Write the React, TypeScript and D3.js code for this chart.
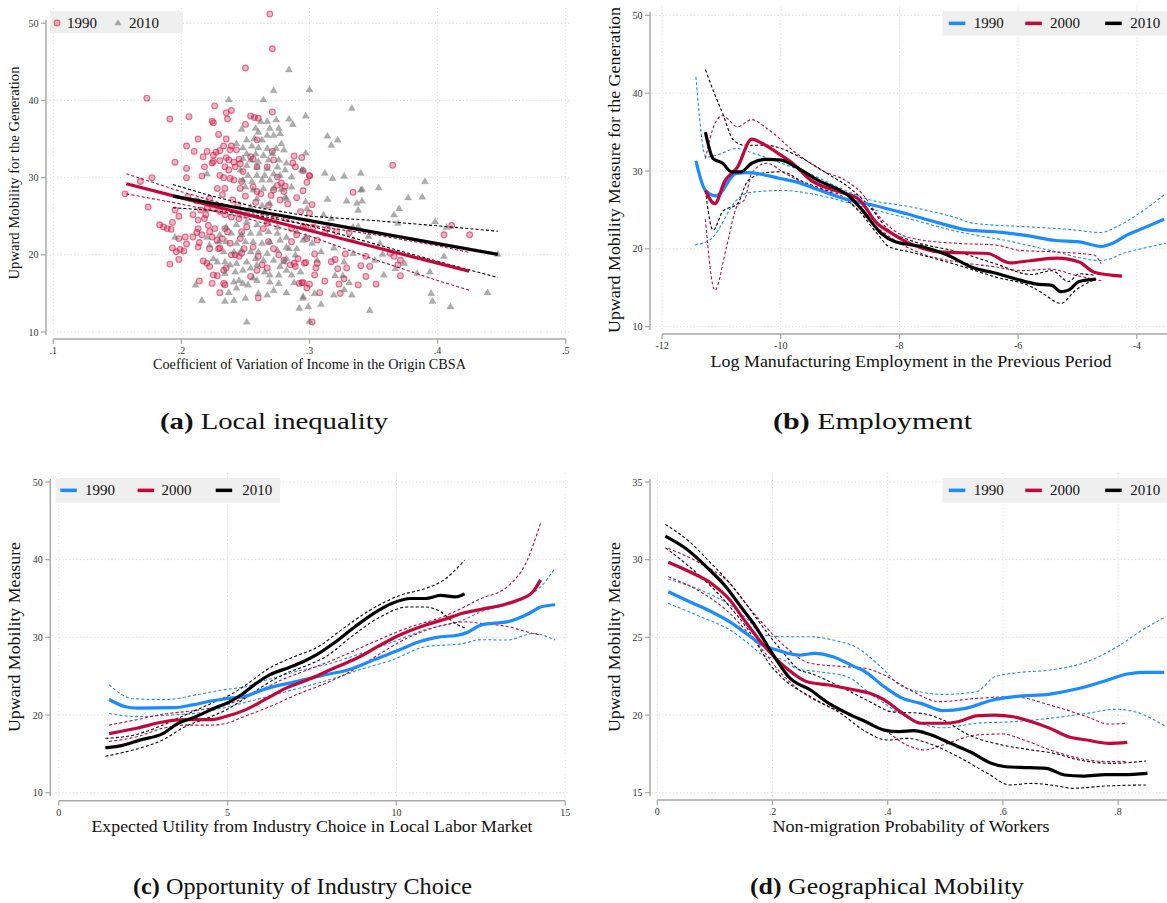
import React from 'react';
import * as d3 from 'd3';

type P = [number, number];

const FONT = "'Liberation Serif', 'DejaVu Serif', serif";
const BLUE = '#1a8cff';
const RED = '#c4063a';
const BLACK = '#000000';

// ---------------- Panel (a) data ----------------
const aXTicks = [0.1, 0.2, 0.3, 0.4, 0.5];
const aXLabels = ['.1', '.2', '.3', '.4', '.5'];
const aYTicks = [10, 20, 30, 40, 50];

const scatter1990: P[] = [
  [0.25,44.2],[0.173,40.3],[0.191,37.6],[0.206,37.9],[0.226,39.3],[0.224,37.3],[0.225,37.1],[0.235,38.4],[0.239,38.7],[0.236,37.6],
  [0.25,36.9],[0.254,38.0],[0.257,37.8],[0.26,37.7],[0.271,38.5],[0.229,35.6],[0.235,35.0],[0.213,35.0],[0.204,34.1],[0.21,33.4],
  [0.22,33.4],[0.217,32.7],[0.227,33.3],[0.23,33.5],[0.233,34.1],[0.238,33.6],[0.239,34.1],[0.243,33.6],[0.225,32.9],[0.225,32.1],
  [0.23,32.2],[0.224,31.9],[0.218,31.4],[0.204,31.2],[0.195,32.0],[0.235,32.6],[0.237,32.3],[0.241,32.0],[0.242,31.4],[0.246,31.8],
  [0.245,32.4],[0.234,31.4],[0.237,31.0],[0.216,30.2],[0.204,30.0],[0.23,30.3],[0.233,30.0],[0.238,29.9],[0.241,29.7],[0.247,29.5],
  [0.177,30.0],[0.168,29.5],[0.156,27.9],[0.228,28.6],[0.234,28.6],[0.246,28.6],[0.256,28.8],[0.259,28.2],[0.267,31.4],[0.272,32.3],
  [0.275,29.0],[0.278,29.3],[0.281,28.9],[0.288,32.8],[0.294,32.6],[0.287,31.9],[0.289,31.4],[0.295,30.9],[0.3,30.3],[0.295,28.3],
  [0.28,28.2],[0.272,28.4],[0.248,30.8],[0.254,32.7],[0.256,32.4],[0.259,34.9],[0.271,33.4],[0.275,30.1],[0.259,31.4],[0.269,51.2],
  [0.271,46.7],[0.174,26.2],[0.183,23.9],[0.186,23.6],[0.189,23.4],[0.192,23.3],[0.193,24.2],[0.195,25.8],[0.198,25.0],[0.193,20.9],
  [0.196,20.4],[0.199,20.7],[0.202,20.5],[0.191,18.8],[0.198,19.4],[0.198,22.1],[0.203,22.3],[0.204,21.4],[0.209,22.3],[0.212,22.9],
  [0.213,23.4],[0.213,24.5],[0.214,21.6],[0.213,21.0],[0.216,22.6],[0.218,24.7],[0.219,25.2],[0.221,23.8],[0.222,23.0],[0.224,22.3],
  [0.226,23.4],[0.228,21.9],[0.229,20.8],[0.23,20.9],[0.222,20.8],[0.217,19.2],[0.22,18.9],[0.222,18.5],[0.225,17.4],[0.228,17.3],
  [0.224,16.3],[0.214,16.6],[0.23,15.1],[0.233,16.3],[0.234,16.1],[0.232,22.1],[0.234,23.4],[0.236,23.0],[0.238,21.5],[0.239,20.0],
  [0.242,20.0],[0.245,19.8],[0.247,20.2],[0.249,20.8],[0.246,22.1],[0.247,23.0],[0.251,23.6],[0.251,25.2],[0.245,24.7],[0.239,24.9],
  [0.234,25.2],[0.23,25.6],[0.225,26.0],[0.22,26.0],[0.215,25.8],[0.209,25.2],[0.256,21.0],[0.26,19.8],[0.263,18.7],[0.267,18.3],
  [0.259,18.0],[0.254,17.2],[0.26,14.4],[0.268,21.7],[0.272,20.8],[0.276,20.0],[0.277,27.1],[0.28,19.3],[0.285,18.7],[0.288,18.9],
  [0.289,18.5],[0.291,19.5],[0.296,18.9],[0.292,16.3],[0.295,16.4],[0.298,15.7],[0.286,23.4],[0.29,22.6],[0.295,23.6],[0.286,21.7],
  [0.282,24.7],[0.272,24.7],[0.267,24.1],[0.264,23.4],[0.233,18.0],[0.235,18.3],[0.3,30.2],[0.298,29.4],[0.365,31.6],[0.334,28.1],
  [0.302,26.5],[0.3,25.4],[0.297,23.6],[0.303,23.6],[0.314,23.4],[0.321,23.0],[0.331,22.9],[0.306,21.9],[0.304,20.1],[0.298,22.1],
  [0.297,19.0],[0.306,18.9],[0.305,18.3],[0.304,17.4],[0.294,16.4],[0.3,16.2],[0.308,15.1],[0.312,16.6],[0.317,19.1],[0.32,19.4],
  [0.322,18.2],[0.329,18.3],[0.328,20.1],[0.323,16.2],[0.324,15.0],[0.327,16.9],[0.338,16.1],[0.34,18.6],[0.344,19.8],[0.347,18.5],
  [0.344,17.2],[0.352,16.2],[0.363,20.2],[0.366,19.8],[0.371,19.3],[0.369,18.7],[0.371,17.3],[0.405,22.6],[0.411,23.8],[0.425,22.6],
  [0.302,11.3],[0.312,22.8],[0.205,27.5],[0.212,27.0],[0.222,27.3],[0.232,27.8],[0.24,27.1],[0.244,26.5],[0.25,27.6],[0.258,26.8],
  [0.262,27.9],[0.268,26.4],[0.27,27.7],[0.283,26.6],[0.29,27.4],[0.293,25.6],
];

const scatter2010: P[] = [
  [0.284,44.0],[0.272,41.3],[0.237,40.1],[0.264,40.1],[0.247,36.3],[0.262,37.3],[0.267,37.3],[0.274,37.5],[0.284,37.6],[0.287,36.9],
  [0.258,36.4],[0.26,35.9],[0.269,36.4],[0.276,36.4],[0.267,35.5],[0.272,35.5],[0.277,35.7],[0.257,35.1],[0.263,34.9],[0.251,34.9],
  [0.243,34.4],[0.248,33.9],[0.255,34.1],[0.26,33.9],[0.267,33.8],[0.274,33.8],[0.278,34.4],[0.28,33.6],[0.251,33.1],[0.258,33.1],
  [0.264,32.9],[0.271,33.1],[0.248,32.5],[0.254,32.3],[0.26,32.1],[0.268,32.3],[0.276,32.3],[0.282,31.9],[0.251,31.6],[0.259,31.4],
  [0.267,31.2],[0.275,31.4],[0.281,31.0],[0.246,31.0],[0.22,30.5],[0.252,30.3],[0.259,30.3],[0.265,30.3],[0.272,30.5],[0.277,30.3],
  [0.248,29.7],[0.255,29.5],[0.263,29.7],[0.269,29.7],[0.286,30.1],[0.295,31.0],[0.25,28.8],[0.256,28.4],[0.264,28.6],[0.272,28.6],
  [0.278,28.5],[0.286,28.8],[0.281,27.5],[0.195,22.3],[0.211,16.1],[0.216,14.1],[0.234,14.0],[0.237,15.1],[0.241,16.5],[0.243,15.7],
  [0.245,16.7],[0.241,14.1],[0.25,14.4],[0.248,16.3],[0.252,16.1],[0.251,11.3],[0.256,17.0],[0.259,16.7],[0.26,15.0],[0.267,14.8],
  [0.272,15.4],[0.269,16.5],[0.276,16.3],[0.282,15.1],[0.288,16.4],[0.295,14.6],[0.292,13.1],[0.3,11.4],[0.234,17.6],[0.242,17.8],
  [0.248,18.0],[0.254,18.3],[0.259,18.7],[0.265,17.8],[0.269,17.4],[0.276,17.4],[0.277,18.5],[0.282,18.0],[0.286,17.4],[0.293,17.8],
  [0.234,19.1],[0.238,18.7],[0.243,18.9],[0.251,19.1],[0.258,19.5],[0.264,19.3],[0.272,19.3],[0.28,19.1],[0.282,19.5],[0.289,20.0],
  [0.233,20.4],[0.241,20.4],[0.247,20.6],[0.254,20.4],[0.26,20.4],[0.267,20.2],[0.275,20.6],[0.284,20.8],[0.225,19.5],[0.228,19.1],
  [0.222,21.3],[0.229,21.7],[0.235,21.7],[0.243,21.5],[0.25,21.7],[0.256,21.7],[0.263,21.5],[0.269,21.7],[0.277,21.9],[0.282,21.0],
  [0.29,20.8],[0.295,21.9],[0.22,22.3],[0.23,22.6],[0.239,22.8],[0.247,22.6],[0.254,22.8],[0.261,22.8],[0.268,23.0],[0.275,22.8],
  [0.282,22.3],[0.29,23.0],[0.235,23.6],[0.243,23.9],[0.251,24.3],[0.259,23.9],[0.267,24.3],[0.275,23.6],[0.256,25.2],[0.264,25.4],
  [0.246,25.4],[0.254,26.2],[0.263,26.4],[0.269,26.7],[0.259,27.3],[0.282,27.3],[0.297,26.9],[0.333,39.0],[0.297,38.0],[0.314,35.4],
  [0.322,34.9],[0.317,34.2],[0.297,33.2],[0.294,31.0],[0.312,30.6],[0.318,29.9],[0.327,30.2],[0.34,30.6],[0.354,28.7],[0.34,28.4],
  [0.39,29.5],[0.377,27.4],[0.388,27.5],[0.314,27.2],[0.329,27.0],[0.337,26.7],[0.341,27.0],[0.338,25.8],[0.37,26.0],[0.366,25.2],
  [0.298,26.0],[0.311,25.2],[0.317,24.7],[0.334,23.6],[0.338,23.7],[0.398,24.3],[0.369,24.1],[0.407,23.6],[0.297,22.3],[0.302,21.5],
  [0.309,20.4],[0.319,20.9],[0.334,22.0],[0.346,22.4],[0.355,21.5],[0.357,20.1],[0.351,19.3],[0.334,20.2],[0.327,19.1],[0.32,17.3],
  [0.326,17.3],[0.331,16.4],[0.333,14.8],[0.319,14.8],[0.309,13.6],[0.304,15.0],[0.295,14.4],[0.299,13.3],[0.347,12.8],[0.358,17.4],
  [0.367,18.2],[0.374,18.9],[0.384,17.6],[0.394,17.8],[0.405,19.8],[0.395,15.0],[0.396,14.0],[0.41,13.3],[0.439,15.1],[0.447,20.1],
  [0.327,15.5],[0.306,19.3],[0.3,41.4],[0.341,28.5],
];

const aFitX = [0.157, 0.2, 0.25, 0.3, 0.35, 0.4, 0.4246];
const aFit1990 = [29.2, 27.38, 25.27, 23.15, 21.04, 18.92, 17.87];
const aFit1990Hi = [30.5, 28.18, 25.77, 23.85, 22.64, 21.17, 20.32];
const aFit1990Lo = [27.9, 26.58, 24.77, 22.45, 19.44, 16.67, 15.42];
const aFit2010X = [0.1935, 0.22, 0.26, 0.3, 0.35, 0.4, 0.447];
const aFit2010 = [27.6, 26.81, 25.62, 24.43, 22.95, 21.46, 20.06];
const aFit2010Hi = [29.1, 27.8, 26.1, 25.0, 24.45, 23.76, 23.06];
const aFit2010Lo = [26.1, 25.8, 25.1, 23.8, 21.45, 19.16, 17.06];

// ---------------- Panel (b) data ----------------
const bXTicks = [-12, -10, -8, -6, -4];
const bYTicks = [10, 20, 30, 40, 50];
const b1990: P[] = [[-11.43,31.3],[-11.27,27.5],[-11.09,26.8],[-10.75,29.7],[-10.55,29.8],[-9.99,29.0],[-9.74,28.6],[-9.37,27.6],[-9.0,26.6],[-8.81,26.2],[-8.44,25.6],[-7.88,24.5],[-7.32,23.3],[-6.83,22.4],[-6.39,22.2],[-5.77,21.6],[-5.4,21.1],[-4.97,20.9],[-4.6,20.3],[-4.41,20.7],[-4.16,21.8],[-3.91,22.6],[-3.54,23.8]];
const b1990Hi: P[] = [[-11.43,42.1],[-11.26,31.8],[-11.1,32.0],[-10.73,32.9],[-10.55,32.5],[-9.99,31.0],[-9.5,29.6],[-9.0,27.8],[-8.5,26.3],[-7.82,25.4],[-7.01,23.9],[-6.77,23.3],[-5.77,22.8],[-5.15,22.5],[-4.6,22.1],[-4.35,22.8],[-3.97,24.5],[-3.51,27.1]];
const b1990Lo: P[] = [[-11.45,20.5],[-11.17,21.3],[-10.74,26.3],[-10.55,27.2],[-9.99,27.5],[-9.25,26.7],[-8.63,25.4],[-7.95,24.1],[-7.01,22.2],[-6.09,20.9],[-5.46,19.8],[-4.6,18.5],[-4.16,19.6],[-3.91,20.05],[-3.51,20.7]];
const b2000: P[] = [[-11.27,27.5],[-11.11,25.8],[-10.95,28.6],[-10.73,30.5],[-10.49,34.1],[-10.3,33.5],[-10.05,32.3],[-9.8,31.0],[-9.49,28.8],[-9.0,27.3],[-8.69,26.4],[-8.38,23.3],[-8.13,22.0],[-7.88,20.9],[-7.32,19.6],[-6.51,19.4],[-6.14,18.2],[-5.77,18.5],[-5.34,18.8],[-4.97,18.3],[-4.72,17.0],[-4.25,16.5]];
const b2000Hi: P[] = [[-11.27,31.6],[-11.11,36.1],[-10.98,37.1],[-10.73,35.7],[-10.49,36.6],[-10.24,35.5],[-9.74,32.3],[-9.31,30.1],[-8.87,28.6],[-8.63,27.1],[-8.38,24.5],[-8.13,22.6],[-7.82,21.4],[-7.01,20.7],[-6.39,20.5],[-5.96,19.8],[-5.34,19.6],[-4.72,19.2],[-4.6,18.1]];
const b2000Lo: P[] = [[-11.27,23.8],[-11.11,14.7],[-10.92,20.05],[-10.73,25.6],[-10.61,26.3],[-10.49,29.7],[-10.24,31.0],[-9.93,29.7],[-9.49,28.0],[-9.0,26.9],[-8.63,24.5],[-8.25,22.0],[-7.63,19.4],[-7.01,18.3],[-6.39,17.7],[-5.96,17.2],[-5.46,17.4],[-5.03,16.6],[-4.6,15.9]];
const b2010: P[] = [[-11.27,35.0],[-11.14,31.6],[-10.98,31.0],[-10.83,29.9],[-10.67,29.9],[-10.49,31.0],[-10.24,31.5],[-9.99,31.4],[-9.74,30.5],[-9.37,28.8],[-9.0,27.5],[-8.87,26.9],[-8.63,25.0],[-8.31,22.0],[-8.07,20.9],[-7.63,20.3],[-7.19,19.2],[-6.77,17.6],[-6.39,16.9],[-6.02,16.1],[-5.71,15.5],[-5.43,15.3],[-5.28,14.5],[-5.15,14.7],[-4.97,15.8],[-4.69,16.1]];
const b2010Hi: P[] = [[-11.27,43.0],[-11.11,39.8],[-10.98,37.4],[-10.8,34.0],[-10.61,33.3],[-10.24,33.3],[-9.99,32.9],[-9.68,31.8],[-9.18,29.5],[-8.87,28.0],[-8.5,25.4],[-8.18,22.4],[-7.82,21.1],[-7.01,19.6],[-6.39,18.1],[-5.77,16.7],[-5.43,17.2],[-5.15,15.8],[-4.97,16.8],[-4.72,16.6]];
const b2010Lo: P[] = [[-11.27,27.5],[-11.14,22.4],[-10.98,24.8],[-10.73,25.8],[-10.55,28.8],[-10.24,29.8],[-9.99,29.9],[-9.62,28.6],[-9.18,27.3],[-8.75,25.4],[-8.38,22.0],[-8.18,20.3],[-7.82,19.6],[-7.01,17.9],[-6.39,16.4],[-5.77,15.1],[-5.59,14.3],[-5.28,13.0],[-5.03,14.7],[-4.72,16.0]];

// ---------------- Panel (c) data ----------------
const cXTicks = [0, 5, 10, 15];
const cYTicks = [10, 20, 30, 40, 50];
const c1990: P[] = [[1.49,22.0],[1.98,21.07],[2.31,20.9],[3.41,20.94],[3.96,21.3],[4.51,21.8],[4.94,22.1],[5.49,22.4],[6.15,23.4],[7.03,24.3],[7.8,25.1],[8.56,25.8],[9.33,27.1],[10.1,28.4],[10.65,29.4],[11.19,30.0],[11.85,30.3],[12.13,30.7],[12.51,31.6],[12.84,31.8],[13.28,32.0],[13.94,33.1],[14.27,33.9],[14.7,34.2]];
const c1990Hi: P[] = [[1.49,23.9],[2.2,22.1],[3.19,22.0],[4.07,22.6],[4.94,23.3],[5.49,23.6],[6.15,24.5],[7.03,25.6],[8.0,26.6],[9.0,28.0],[9.77,29.2],[10.87,31.0],[11.96,32.2],[12.51,33.3],[13.28,34.2],[13.83,35.2],[14.27,36.5],[14.7,38.9]];
const c1990Lo: P[] = [[1.49,20.2],[2.31,19.8],[3.3,20.0],[4.18,20.3],[4.94,21.0],[5.6,21.7],[6.37,22.6],[7.25,23.6],[8.13,24.7],[8.89,25.8],[9.88,27.1],[10.87,28.8],[11.96,29.2],[12.51,29.7],[13.28,29.65],[14.05,30.5],[14.7,29.65]];
const c2000: P[] = [[1.49,17.6],[2.31,18.3],[3.08,19.1],[3.74,19.4],[4.51,19.4],[4.94,19.8],[5.49,20.6],[6.15,22.1],[6.7,23.4],[7.47,24.7],[8.13,26.0],[8.56,26.8],[9.0,27.7],[9.44,28.8],[10.1,30.3],[10.87,31.6],[11.41,32.3],[11.96,33.1],[12.51,33.6],[13.17,34.2],[13.61,34.8],[14.05,35.9],[14.27,37.4]];
const c2000Hi: P[] = [[1.49,18.7],[2.31,19.4],[3.08,20.1],[4.07,20.6],[4.94,21.3],[5.71,22.6],[6.59,24.5],[7.36,25.8],[8.13,27.1],[9.22,29.2],[10.32,31.2],[11.41,32.7],[12.51,35.0],[13.28,36.5],[13.83,39.5],[14.27,44.7]];
const c2000Lo: P[] = [[1.49,16.6],[2.31,17.2],[3.08,18.3],[3.74,18.7],[4.51,18.7],[4.94,18.9],[5.49,19.8],[6.26,21.1],[7.03,22.6],[7.8,23.9],[8.56,25.4],[9.22,27.1],[10.32,29.9],[11.41,31.6],[12.07,32.0],[12.51,31.8],[13.28,31.4],[14.05,30.5],[14.27,30.3]];
const c2010: P[] = [[1.38,15.8],[1.77,16.0],[2.42,16.8],[3.08,17.6],[3.52,18.9],[4.07,19.8],[4.62,20.9],[5.06,21.7],[5.44,22.7],[5.82,24.0],[6.26,25.2],[6.81,26.1],[7.25,26.9],[7.69,27.9],[8.13,29.2],[8.78,31.4],[9.33,33.1],[9.88,34.4],[10.43,35.0],[10.87,35.0],[11.31,35.4],[11.74,35.2],[12.02,35.6]];
const c2010Hi: P[] = [[1.38,17.0],[2.2,17.4],[2.97,18.5],[3.74,20.0],[4.51,21.5],[5.16,22.8],[5.71,24.4],[6.15,25.8],[6.59,26.8],[7.03,27.6],[7.69,28.8],[8.35,30.9],[9.22,33.5],[10.1,35.4],[10.87,36.3],[11.41,37.4],[12.02,39.95]];
const c2010Lo: P[] = [[1.38,14.7],[2.2,15.5],[3.08,16.8],[3.74,18.5],[4.4,19.6],[5.06,20.9],[5.6,22.4],[6.15,24.0],[6.7,25.3],[7.36,26.4],[7.91,27.5],[8.67,30.1],[9.55,32.7],[10.32,33.9],[10.87,33.9],[11.31,33.3],[11.74,31.8],[12.02,31.2]];

// ---------------- Panel (d) data ----------------
const dXTicks = [0, 0.2, 0.4, 0.6, 0.8];
const dXLabels = ['0', '.2', '.4', '.6', '.8'];
const dYTicks = [15, 20, 25, 30, 35];
const d1990: P[] = [[0.019,27.94],[0.056,27.29],[0.094,26.65],[0.126,26.0],[0.158,25.15],[0.183,24.5],[0.208,24.18],[0.247,23.86],[0.273,23.97],[0.305,23.75],[0.343,23.1],[0.356,22.9],[0.394,21.82],[0.426,21.07],[0.458,20.75],[0.496,20.28],[0.535,20.43],[0.586,21.0],[0.624,21.2],[0.682,21.35],[0.733,21.72],[0.778,22.21],[0.816,22.64],[0.842,22.75],[0.88,22.75]];
const d1990Hi: P[] = [[0.019,28.75],[0.075,28.04],[0.126,27.08],[0.158,26.11],[0.183,25.15],[0.222,25.04],[0.266,25.04],[0.305,24.83],[0.349,24.29],[0.388,23.1],[0.426,21.82],[0.496,21.33],[0.554,21.5],[0.586,22.46],[0.624,22.72],[0.682,22.9],[0.746,23.43],[0.803,24.5],[0.842,25.47],[0.883,26.33]];
const d1990Lo: P[] = [[0.019,27.19],[0.075,26.33],[0.126,25.47],[0.158,24.61],[0.183,23.86],[0.222,23.5],[0.241,23.0],[0.279,22.79],[0.33,22.46],[0.369,21.4],[0.394,20.75],[0.426,20.0],[0.496,19.18],[0.554,19.47],[0.618,19.57],[0.682,19.79],[0.746,20.11],[0.797,20.37],[0.829,20.21],[0.883,19.25]];
const d2000: P[] = [[0.019,29.83],[0.056,29.22],[0.094,28.47],[0.126,27.4],[0.151,26.11],[0.177,24.83],[0.203,23.75],[0.228,22.9],[0.26,22.14],[0.298,21.93],[0.343,21.61],[0.369,21.4],[0.394,20.97],[0.426,20.11],[0.458,19.47],[0.496,19.47],[0.522,19.57],[0.554,19.94],[0.586,20.0],[0.618,19.89],[0.65,19.57],[0.682,19.14],[0.714,18.6],[0.746,18.39],[0.784,18.18],[0.816,18.24]];
const d2000Hi: P[] = [[0.019,30.73],[0.075,29.76],[0.126,28.47],[0.158,26.97],[0.183,25.9],[0.222,24.4],[0.266,23.33],[0.33,23.1],[0.362,23.0],[0.394,22.57],[0.439,21.61],[0.49,20.86],[0.554,21.07],[0.618,21.18],[0.682,20.64],[0.746,19.89],[0.784,19.42],[0.816,19.47]];
const d2000Lo: P[] = [[0.019,28.9],[0.075,27.93],[0.126,26.54],[0.158,25.26],[0.183,24.18],[0.215,22.68],[0.254,21.4],[0.298,20.53],[0.343,19.89],[0.394,19.03],[0.433,18.07],[0.465,17.75],[0.496,18.07],[0.554,18.71],[0.599,18.78],[0.637,18.39],[0.682,17.75],[0.733,17.21],[0.784,17.0],[0.816,17.0]];
const d2010: P[] = [[0.014,31.52],[0.049,30.73],[0.088,29.44],[0.119,28.26],[0.145,26.97],[0.171,25.68],[0.196,24.18],[0.215,23.11],[0.228,22.46],[0.266,21.61],[0.298,20.75],[0.33,20.11],[0.362,19.57],[0.394,19.03],[0.42,18.93],[0.445,18.99],[0.471,18.78],[0.509,18.18],[0.548,17.54],[0.58,16.89],[0.605,16.67],[0.631,16.63],[0.675,16.57],[0.707,16.14],[0.739,16.07],[0.778,16.16],[0.809,16.16],[0.851,16.25]];
const d2010Hi: P[] = [[0.014,32.27],[0.056,31.15],[0.088,29.97],[0.126,28.47],[0.158,26.97],[0.183,25.68],[0.215,24.18],[0.247,22.9],[0.266,22.68],[0.318,21.82],[0.369,20.86],[0.407,20.21],[0.458,20.11],[0.496,19.68],[0.541,18.71],[0.599,18.07],[0.65,17.75],[0.688,17.54],[0.733,17.1],[0.79,16.89],[0.848,17.04]];
const d2010Lo: P[] = [[0.014,30.77],[0.056,29.54],[0.094,28.26],[0.126,26.97],[0.158,25.47],[0.183,23.97],[0.19,23.54],[0.215,22.46],[0.266,21.18],[0.318,20.11],[0.362,18.93],[0.4,18.39],[0.433,18.5],[0.471,18.18],[0.522,17.32],[0.573,16.25],[0.612,15.5],[0.65,15.6],[0.695,15.43],[0.72,15.28],[0.778,15.43],[0.848,15.5]];

const years = ['1990', '2000', '2010'];
const colors = [BLUE, RED, BLACK];

type Scale = d3.ScaleLinear<number, number>;

interface FrameProps {
  x: Scale; y: Scale;
  xTicks: number[]; xLabels: string[];
  yTicks: number[];
  grid: [number, number, number, number];
  yAxisX: number; yAxisSpan: [number, number];
  xAxisY: number; xAxisSpan: [number, number];
}

function Frame(p: FrameProps) {
  const [gl, gr, gt, gb] = p.grid;
  return (
    <g>
      {p.yTicks.map((t) => (
        <line key={'gy' + t} x1={gl} x2={gr} y1={p.y(t)} y2={p.y(t)} stroke="#d4d4d4" strokeWidth={1} strokeDasharray="1 2.5" />
      ))}
      {p.xTicks.map((t) => (
        <line key={'gx' + t} x1={p.x(t)} x2={p.x(t)} y1={gt} y2={gb} stroke="#d4d4d4" strokeWidth={1} strokeDasharray="1 2.5" />
      ))}
      <line x1={p.yAxisX} x2={p.yAxisX} y1={p.yAxisSpan[0]} y2={p.yAxisSpan[1]} stroke="#a6a6a6" strokeWidth={1.4} />
      {p.yTicks.map((t) => (
        <g key={'ty' + t}>
          <line x1={p.yAxisX - 5} x2={p.yAxisX} y1={p.y(t)} y2={p.y(t)} stroke="#a6a6a6" strokeWidth={1.2} />
          <text x={p.yAxisX - 7.5} y={p.y(t)} dy="0.35em" textAnchor="end" fontSize={10} fill="#333" fontFamily={FONT}>{String(t)}</text>
        </g>
      ))}
      <line x1={p.xAxisSpan[0]} x2={p.xAxisSpan[1]} y1={p.xAxisY} y2={p.xAxisY} stroke="#a6a6a6" strokeWidth={1.4} />
      {p.xTicks.map((t, i) => (
        <g key={'tx' + t}>
          <line x1={p.x(t)} x2={p.x(t)} y1={p.xAxisY} y2={p.xAxisY + 5} stroke="#a6a6a6" strokeWidth={1.2} />
          <text x={p.x(t)} y={p.xAxisY + 15} textAnchor="middle" fontSize={10} fill="#333" fontFamily={FONT}>{p.xLabels[i]}</text>
        </g>
      ))}
    </g>
  );
}

function SeriesLines({ x, y, sets }: { x: Scale; y: Scale; sets: { mid: P[]; hi: P[]; lo: P[]; color: string }[] }) {
  const line = d3.line<P>().x((d) => x(d[0])).y((d) => y(d[1])).curve(d3.curveMonotoneX);
  return (
    <g>
      {sets.map((s, i) => (
        <g key={'d' + i}>
          <path d={line(s.hi) || ''} fill="none" stroke={s.color} strokeWidth={1.1} strokeDasharray="3 2.2" />
          <path d={line(s.lo) || ''} fill="none" stroke={s.color} strokeWidth={1.1} strokeDasharray="3 2.2" />
        </g>
      ))}
      {sets.map((s, i) => (
        <path key={'m' + i} d={line(s.mid) || ''} fill="none" stroke={s.color} strokeWidth={3.2} strokeLinejoin="round" />
      ))}
    </g>
  );
}

function LineLegend({ box, entries }: { box: [number, number, number, number]; entries: { x1: number; tx: number }[] }) {
  const [bx, by, bw, bh] = box;
  const cy = by + bh / 2;
  return (
    <g>
      <rect x={bx} y={by} width={bw} height={bh} fill="#efefef" />
      {entries.map((e, i) => (
        <g key={i}>
          <line x1={e.x1} x2={e.x1 + 16.5} y1={cy} y2={cy} stroke={colors[i]} strokeWidth={3.5} />
          <text x={e.tx} y={cy + 5} fontSize={15} fontFamily={FONT} fill="#111">{years[i]}</text>
        </g>
      ))}
    </g>
  );
}

function YTitle({ cx, cy, text, len, size }: { cx: number; cy: number; text: string; len: number; size: number }) {
  return (
    <text transform={`translate(${cx},${cy}) rotate(-90)`} textAnchor="middle" dy="0.35em" fontSize={size} fontFamily={FONT} fill="#111" textLength={len} lengthAdjust="spacingAndGlyphs">{text}</text>
  );
}

function XTitle({ cx, y, text, len, size }: { cx: number; y: number; text: string; len: number; size: number }) {
  return (
    <text x={cx} y={y} textAnchor="middle" fontSize={size} fontFamily={FONT} fill="#111" textLength={len} lengthAdjust="spacingAndGlyphs">{text}</text>
  );
}

function Caption({ cx, y, tag, text, len }: { cx: number; y: number; tag: string; text: string; len: number }) {
  return (
    <text x={cx} y={y} textAnchor="middle" fontSize={24} fontFamily={FONT} fill="#111" textLength={len} lengthAdjust="spacingAndGlyphs">
      <tspan fontWeight="bold">{tag}</tspan>
      <tspan>{' ' + text}</tspan>
    </text>
  );
}

const tri = (cx: number, cy: number, s = 3.8) => `M${cx},${cy - s}L${cx + s * 0.95},${cy + s * 0.62}L${cx - s * 0.95},${cy + s * 0.62}Z`;

function PanelA() {
  const x = d3.scaleLinear().domain([0.1, 0.5]).range([53.3, 565.7]);
  const y = d3.scaleLinear().domain([10, 50]).range([332, 23.3]);
  const fit = d3.line<number>().x((_, i) => x(aFitX[i])).y((d) => y(d));
  const fit2 = d3.line<number>().x((_, i) => x(aFit2010X[i])).y((d) => y(d));
  return (
    <g>
      <Frame x={x} y={y} xTicks={aXTicks} xLabels={aXLabels} yTicks={aYTicks}
        grid={[50, 570, 8, 336]} yAxisX={46} yAxisSpan={[20, 335]} xAxisY={339} xAxisSpan={[53.3, 566]} />
      {scatter1990.map((d, i) => (
        <circle key={'c' + i} cx={x(d[0])} cy={y(d[1])} r={2.9} fill="rgba(205,20,65,0.32)" stroke="rgba(205,20,65,0.55)" strokeWidth={1.1} />
      ))}
      {scatter2010.map((d, i) => (
        <path key={'t' + i} d={tri(x(d[0]), y(d[1]))} fill="rgba(105,105,105,0.55)" stroke="rgba(105,105,105,0.25)" strokeWidth={0.6} />
      ))}
      <path d={fit(aFit1990Hi) || ''} fill="none" stroke={RED} strokeWidth={1.1} strokeDasharray="3 2.2" />
      <path d={fit(aFit1990Lo) || ''} fill="none" stroke={RED} strokeWidth={1.1} strokeDasharray="3 2.2" />
      <path d={fit2(aFit2010Hi) || ''} fill="none" stroke={BLACK} strokeWidth={1.1} strokeDasharray="3 2.2" />
      <path d={fit2(aFit2010Lo) || ''} fill="none" stroke={BLACK} strokeWidth={1.1} strokeDasharray="3 2.2" />
      <path d={fit(aFit1990) || ''} fill="none" stroke={RED} strokeWidth={3.2} />
      <path d={fit2(aFit2010) || ''} fill="none" stroke={BLACK} strokeWidth={3.2} />
      <rect x={50} y={11} width={133} height={22} fill="#efefef" />
      <circle cx={57} cy={23} r={2.9} fill="rgba(205,20,65,0.32)" stroke="rgba(205,20,65,0.55)" strokeWidth={1.1} />
      <text x={67} y={28} fontSize={15} fontFamily={FONT} fill="#111">1990</text>
      <path d={tri(118, 23)} fill="rgba(105,105,105,0.55)" />
      <text x={129} y={28} fontSize={15} fontFamily={FONT} fill="#111">2010</text>
      <YTitle cx={13.5} cy={173} text="Upward Mobility for the Generation" len={213} size={14.5} />
      <XTitle cx={309.5} y={369} text="Coefficient of Variation of Income in the Origin CBSA" len={313} size={14.5} />
    </g>
  );
}

function PanelB() {
  const x = d3.scaleLinear().domain([-12, -4]).range([662.1, 1136.8]);
  const y = d3.scaleLinear().domain([10, 50]).range([326.7, 15.3]);
  return (
    <g>
      <Frame x={x} y={y} xTicks={bXTicks} xLabels={bXTicks.map(String)} yTicks={bYTicks}
        grid={[652, 1167, 6, 330]} yAxisX={650} yAxisSpan={[12, 330]} xAxisY={334} xAxisSpan={[662.1, 1167]} />
      <SeriesLines x={x} y={y} sets={[
        { mid: b1990, hi: b1990Hi, lo: b1990Lo, color: BLUE },
        { mid: b2000, hi: b2000Hi, lo: b2000Lo, color: RED },
        { mid: b2010, hi: b2010Hi, lo: b2010Lo, color: BLACK },
      ]} />
      <LineLegend box={[942.5, 11, 230, 24.7]} entries={[{ x1: 948.8, tx: 973.8 }, { x1: 1025.3, tx: 1050 }, { x1: 1105.2, tx: 1130.2 }]} />
      <YTitle cx={614} cy={170} text="Upward Mobility Measure for the Generation" len={326} size={17} />
      <XTitle cx={911} y={367} text="Log Manufacturing Employment in the Previous Period" len={401} size={17} />
    </g>
  );
}

function PanelC() {
  const x = d3.scaleLinear().domain([0, 15]).range([58.8, 565.2]);
  const y = d3.scaleLinear().domain([10, 50]).range([792.7, 482]);
  return (
    <g>
      <Frame x={x} y={y} xTicks={cXTicks} xLabels={cXTicks.map(String)} yTicks={cYTicks}
        grid={[55.5, 569.7, 473, 797]} yAxisX={50.3} yAxisSpan={[479, 796]} xAxisY={800.7} xAxisSpan={[58.8, 565.2]} />
      <SeriesLines x={x} y={y} sets={[
        { mid: c1990, hi: c1990Hi, lo: c1990Lo, color: BLUE },
        { mid: c2000, hi: c2000Hi, lo: c2000Lo, color: RED },
        { mid: c2010, hi: c2010Hi, lo: c2010Lo, color: BLACK },
      ]} />
      <LineLegend box={[55.5, 478, 224.5, 24.7]} entries={[{ x1: 60.3, tx: 85 }, { x1: 137.6, tx: 161.6 }, { x1: 215.7, tx: 242.3 }]} />
      <YTitle cx={14.5} cy={637} text="Upward Mobility Measure" len={190} size={17} />
      <XTitle cx={312} y={832} text="Expected Utility from Industry Choice in Local Labor Market" len={441} size={17} />
    </g>
  );
}

function PanelD() {
  const x = d3.scaleLinear().domain([0, 0.8]).range([657.3, 1118.1]);
  const y = d3.scaleLinear().domain([15, 35]).range([792.7, 482]);
  return (
    <g>
      <Frame x={x} y={y} xTicks={dXTicks} xLabels={dXLabels} yTicks={dYTicks}
        grid={[652, 1167, 473, 797]} yAxisX={650} yAxisSpan={[479, 796]} xAxisY={800} xAxisSpan={[657.3, 1167]} />
      <SeriesLines x={x} y={y} sets={[
        { mid: d1990, hi: d1990Hi, lo: d1990Lo, color: BLUE },
        { mid: d2000, hi: d2000Hi, lo: d2000Lo, color: RED },
        { mid: d2010, hi: d2010Hi, lo: d2010Lo, color: BLACK },
      ]} />
      <LineLegend box={[942.5, 478, 230, 24.7]} entries={[{ x1: 948.8, tx: 973.8 }, { x1: 1025.3, tx: 1050 }, { x1: 1105.2, tx: 1130.2 }]} />
      <YTitle cx={614} cy={637} text="Upward Mobility Measure" len={190} size={17} />
      <XTitle cx={911} y={832} text="Non-migration Probability of Workers" len={277} size={17} />
    </g>
  );
}

export default function App() {
  return (
    <svg width={1167} height={903} viewBox="0 0 1167 903" style={{ position: 'absolute', left: 0, top: 0, background: '#fff' }}>
      <rect x={0} y={0} width={1167} height={903} fill="#fff" />
      <PanelA />
      <PanelB />
      <PanelC />
      <PanelD />
      <Caption cx={274} y={429} tag="(a)" text="Local inequality" len={228} />
      <Caption cx={872.5} y={429} tag="(b)" text="Employment" len={199} />
      <Caption cx={302.5} y={894} tag="(c)" text="Opportunity of Industry Choice" len={339} />
      <Caption cx={887} y={894} tag="(d)" text="Geographical Mobility" len={274} />
    </svg>
  );
}
